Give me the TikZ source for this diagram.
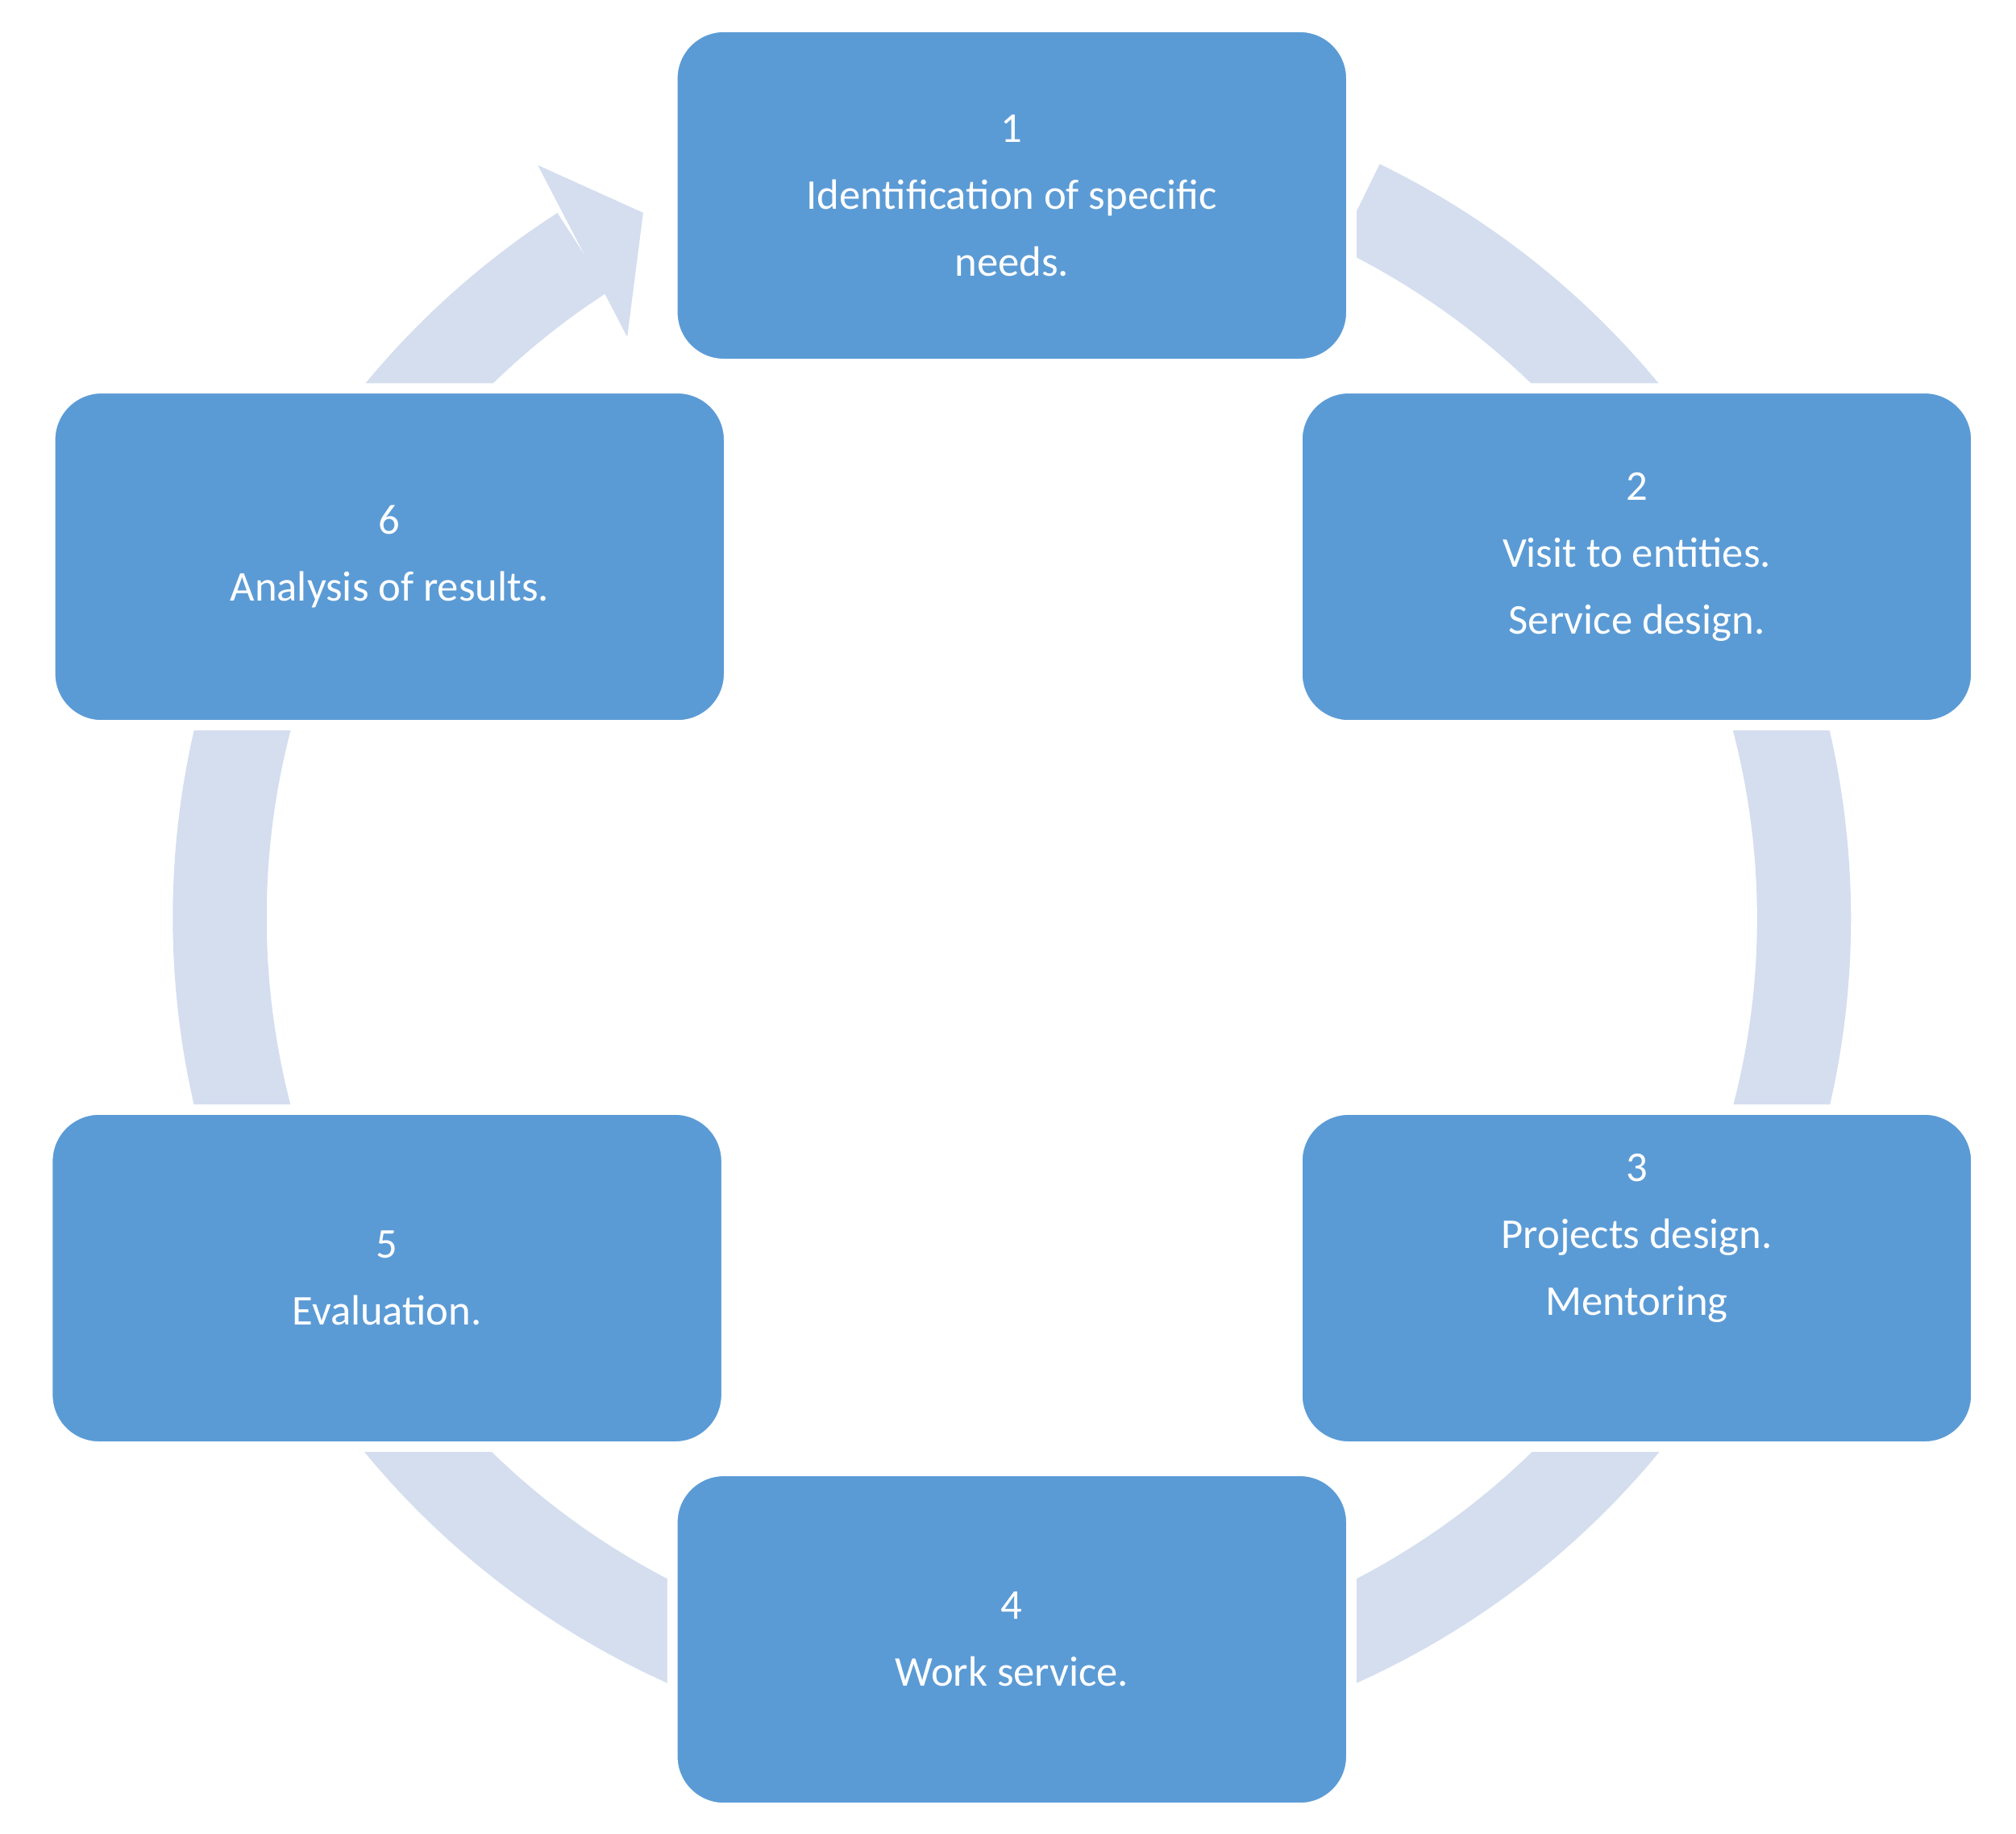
\documentclass[tikz,border=0pt]{standalone}
\usepackage{fontspec}
\setmainfont{Carlito}
\usetikzlibrary{calc}
\definecolor{boxc}{HTML}{5B9BD5}
\definecolor{ringc}{HTML}{D4DEEF}
\begin{document}
\begin{tikzpicture}[x=0.5pt,y=0.5pt,
  box/.style={rectangle,rounded corners=20pt,fill=boxc,draw=white,line width=4pt,minimum width=264pt,minimum height=131pt,text=white,align=center,font=\fontsize{16.5}{26}\selectfont},
  ring/.style={draw=ringc,line width=36.5pt}]
\useasboundingbox (0,0) rectangle (1568,1426);
\coordinate (c) at (787,712);
\draw[ring] ($(c)+(64:616)$) arc[start angle=64,end angle=-237.2,radius=616];
\fill[ringc] ($(c)+(122.2:692)$) -- ($(c)+(117.6:619)$) -- ($(c)+(123.5:542)$) -- cycle;
\node[box] (b1) at (787,1274) {1\\Identification of specific\\needs.};
\node[box] (b2) at (1273,993) {2\\Visit to entities.\\Service design.};
\node[box] (b3) at (1273,432) {3\\Projects design.\\Mentoring\\\strut};
\node[box] (b4) at (787,151) {4\\Work service.};
\node[box] (b5) at (301,432) {5\\Evaluation.};
\node[box] (b6) at (303,993) {6\\Analysis of results.};
\end{tikzpicture}
\end{document}
